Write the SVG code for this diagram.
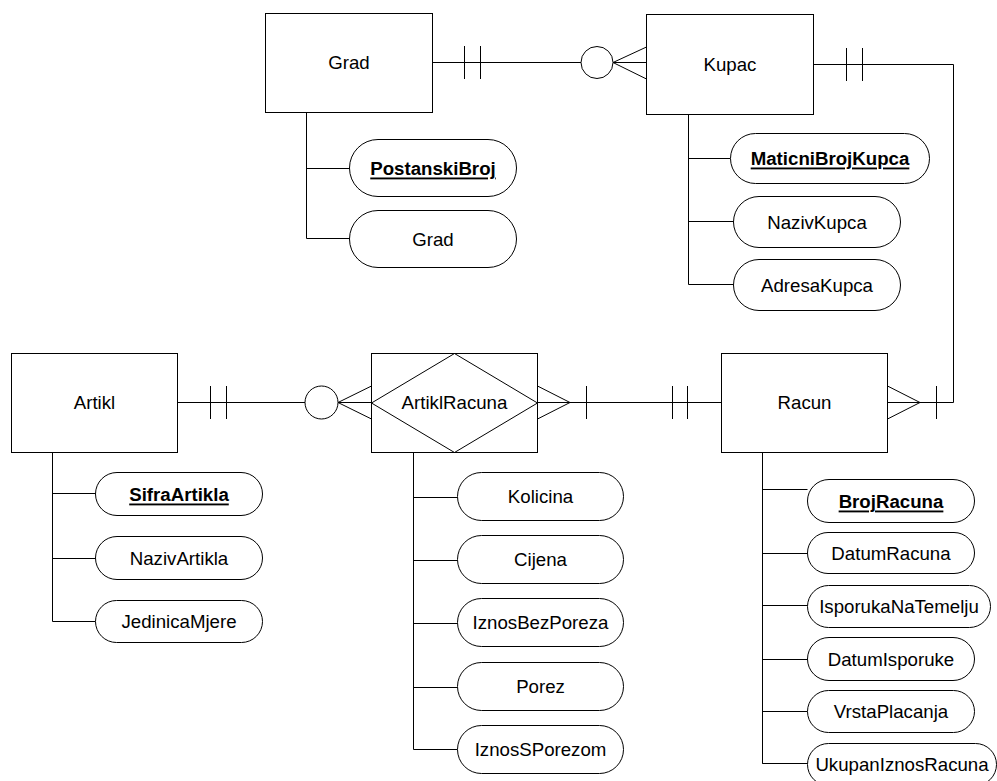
<svg xmlns="http://www.w3.org/2000/svg" width="997" height="781" viewBox="0 0 997 781">
<style>
.b{fill:#fff;stroke:#000;stroke-width:1}
.l{fill:none;stroke:#000;stroke-width:1}
.t{font-family:"Liberation Sans",Arial,sans-serif;font-size:18.67px;text-anchor:middle;dominant-baseline:central;fill:#000}
.k{font-weight:bold;text-decoration:underline}
</style>
<rect width="997" height="781" fill="#fff"/>
<g id="connectors">
<path class="l" d="M432.5 62.5H646.5M464.5 46V79M480.5 46V79M613 62.5L646.5 47M613 62.5L646.5 79"/>
<circle class="b" cx="597" cy="62.5" r="16"/>
<path class="l" d="M813.5 64.5H953.5V402.5H887.5M846.5 48V81M862.5 48V81M920 402.5L887.5 386M920 402.5L887.5 419M936.5 386V419"/>
<path class="l" d="M177.5 402.5H371.5M210.5 386V419M226.5 386V419M338 402.5L371.5 386M338 402.5L371.5 419"/>
<circle class="b" cx="321.5" cy="402.5" r="16.5"/>
<path class="l" d="M537.5 402.5H721.5M570 402.5L537.5 386M570 402.5L537.5 419M586.5 386V419M672.5 386V419M687.5 386V419"/>
<path class="l" d="M306.5 112.5V238.5H349.5M306.5 168.5H349.5"/>
<path class="l" d="M688.5 114.5V284.5H733.5M688.5 158.5H730.5M688.5 221.5H733.5"/>
<path class="l" d="M52.5 452.5V621.5H95.5M52.5 493.5H95.5M52.5 558.5H95.5"/>
<path class="l" d="M413.5 452.5V749.5H457.5M413.5 497.5H457.5M413.5 560.5H457.5M413.5 623.5H457.5M413.5 687.5H457.5"/>
<path class="l" d="M762.5 452.5V763.5H807.5M762.5 489.5H807.5M762.5 553.5H807.5M762.5 605.5H807.5M762.5 659.5H807.5M762.5 711.5H807.5"/>
<path class="l" stroke-width="2" d="M762.5 452.5V763.5"/>
</g>
<g id="Grad"><rect class="b" x="265.5" y="13.5" width="167" height="99"/><text class="t" x="349" y="62">Grad</text></g>
<g id="Kupac"><rect class="b" x="646.5" y="14.5" width="167" height="100"/><text class="t" x="730" y="64">Kupac</text></g>
<g id="Artikl"><rect class="b" x="11.5" y="353.5" width="166" height="99"/><text class="t" x="94.5" y="402">Artikl</text></g>
<g id="ArtiklRacuna"><rect class="b" x="371.5" y="353.5" width="166" height="99"/><polygon class="l" points="454.5,353.5 537.5,403 454.5,452.5 371.5,403"/><text class="t" x="454.5" y="402">ArtiklRacuna</text></g>
<g id="Racun"><rect class="b" x="721.5" y="353.5" width="166" height="99"/><text class="t" x="804.5" y="402">Racun</text></g>
<g id="attr-PostanskiBroj"><rect class="b" x="349.5" y="139.5" width="167" height="57" rx="28.5"/><text class="t k" x="433" y="168">PostanskiBroj</text></g>
<g id="attr-Grad"><rect class="b" x="349.5" y="210.5" width="167" height="57" rx="28.5"/><text class="t" x="433" y="239">Grad</text></g>
<g id="attr-MaticniBrojKupca"><rect class="b" x="730.5" y="133.5" width="199" height="50" rx="25"/><text class="t k" x="830" y="158">MaticniBrojKupca</text></g>
<g id="attr-NazivKupca"><rect class="b" x="733.5" y="196.5" width="167" height="51" rx="25.5"/><text class="t" x="817" y="222">NazivKupca</text></g>
<g id="attr-AdresaKupca"><rect class="b" x="733.5" y="259.5" width="167" height="51" rx="25.5"/><text class="t" x="817" y="285">AdresaKupca</text></g>
<g id="attr-SifraArtikla"><rect class="b" x="95.5" y="472.5" width="167" height="43" rx="21.5"/><text class="t k" x="179" y="494">SifraArtikla</text></g>
<g id="attr-NazivArtikla"><rect class="b" x="95.5" y="536.5" width="167" height="43" rx="21.5"/><text class="t" x="179" y="558">NazivArtikla</text></g>
<g id="attr-JedinicaMjere"><rect class="b" x="95.5" y="600.5" width="167" height="42" rx="21"/><text class="t" x="179" y="621.5">JedinicaMjere</text></g>
<g id="attr-Kolicina"><rect class="b" x="457.5" y="472.5" width="166" height="48" rx="24"/><text class="t" x="540.5" y="496.5">Kolicina</text></g>
<g id="attr-Cijena"><rect class="b" x="457.5" y="535.5" width="166" height="48" rx="24"/><text class="t" x="540.5" y="559.5">Cijena</text></g>
<g id="attr-IznosBezPoreza"><rect class="b" x="457.5" y="598.5" width="166" height="48" rx="24"/><text class="t" x="540.5" y="622.5">IznosBezPoreza</text></g>
<g id="attr-Porez"><rect class="b" x="457.5" y="662.5" width="166" height="48" rx="24"/><text class="t" x="540.5" y="686.5">Porez</text></g>
<g id="attr-IznosSPorezom"><rect class="b" x="457.5" y="725.5" width="166" height="48" rx="24"/><text class="t" x="540.5" y="749.5">IznosSPorezom</text></g>
<g id="attr-BrojRacuna"><rect class="b" x="807.5" y="479.5" width="167" height="43" rx="21.5"/><text class="t k" x="891" y="501">BrojRacuna</text></g>
<g id="attr-DatumRacuna"><rect class="b" x="807.5" y="532.5" width="167" height="41" rx="20.5"/><text class="t" x="891" y="553">DatumRacuna</text></g>
<g id="attr-IsporukaNaTemelju"><rect class="b" x="807.5" y="585.5" width="183" height="42" rx="21"/><text class="t" x="899" y="606.5">IsporukaNaTemelju</text></g>
<g id="attr-DatumIsporuke"><rect class="b" x="807.5" y="637.5" width="167" height="43" rx="21.5"/><text class="t" x="891" y="659">DatumIsporuke</text></g>
<g id="attr-VrstaPlacanja"><rect class="b" x="807.5" y="690.5" width="167" height="42" rx="21"/><text class="t" x="891" y="711.5">VrstaPlacanja</text></g>
<g id="attr-UkupanIznosRacuna"><rect class="b" x="807.5" y="743.5" width="189" height="42" rx="21"/><text class="t" x="902" y="764.5">UkupanIznosRacuna</text></g>
</svg>
